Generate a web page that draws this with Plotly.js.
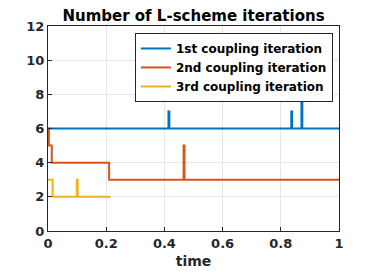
<!DOCTYPE html>
<html><head><meta charset="utf-8">
<script src="https://cdn.plot.ly/plotly-3.0.1.min.js"></script>
<style>html,body{margin:0;padding:0;background:#fff}</style>
</head><body>
<div id="chart" style="width:374px;height:280px"></div>
<script>
const seriesNames = ["1st coupling iteration", "2nd coupling iteration", "3rd coupling iteration"];
const time1 = [0, 0.414, 0.417, 0.836, 0.839, 0.871, 0.874, 1];
const iters1 = [6, 7, 6, 7, 6, 8, 6, 6];
const time2 = [0, 0.003, 0.013, 0.21, 0.466, 0.469, 1];
const iters2 = [6, 5, 4, 3, 5, 3, 3];
const time3 = [0, 0.016, 0.099, 0.102, 0.215];
const iters3 = [3, 2, 3, 2, 2];
const xTicks = [0, 0.2, 0.4, 0.6, 0.8, 1];
const xTickText = ["0", "0.2", "0.4", "0.6", "0.8", "1"];
const yTicks = [0, 2, 4, 6, 8, 10, 12];
const colors = ["#0072BD", "#D95319", "#EDB120"];

const FONT = "DejaVu Sans, Liberation Sans, Arial, sans-serif";
const xs = [time1, time2, time3], ys = [iters1, iters2, iters3];
const traces = xs.map((x, i) => ({
  x: x, y: ys[i], name: seriesNames[i], type: "scatter", mode: "lines",
  line: {color: colors[i], width: 2, shape: "hv"}
}));
const axisCommon = {
  showline: true, mirror: true, linecolor: "#262626", linewidth: 1,
  ticks: "inside", ticklen: 4, tickcolor: "#262626",
  showgrid: true, gridcolor: "#e6e6e6", gridwidth: 1, zeroline: false,
  tickfont: {family: FONT, size: 13, color: "#262626", weight: "bold"}
};
const layout = {
  width: 374, height: 280,
  margin: {l: 48, r: 35, t: 26, b: 49},
  paper_bgcolor: "#fff", plot_bgcolor: "#fff",
  title: {text: "<b>Number of L-scheme iterations</b>", xref: "paper", x: 0.5, xanchor: "center",
          yref: "paper", y: 1, yanchor: "bottom", pad: {b: 5},
          font: {family: FONT, size: 15, color: "#000"}},
  xaxis: Object.assign({}, axisCommon, {range: [0, 1], tickvals: xTicks, ticktext: xTickText,
    title: {text: "<b>time</b>", standoff: 6, font: {family: FONT, size: 14, color: "#262626"}}}),
  yaxis: Object.assign({}, axisCommon, {range: [0, 12], tickvals: yTicks}),
  legend: {x: 0.979, xanchor: "right", y: 0.966, yanchor: "top", bgcolor: "#fff", bordercolor: "#262626", borderwidth: 1,
    font: {family: FONT, size: 12, color: "#000", weight: "bold"},
    tracegroupgap: 0, itemwidth: 30},
  showlegend: true
};
Plotly.newPlot("chart", traces, layout, {displayModeBar: false, staticPlot: true});
</script>
</body></html>
